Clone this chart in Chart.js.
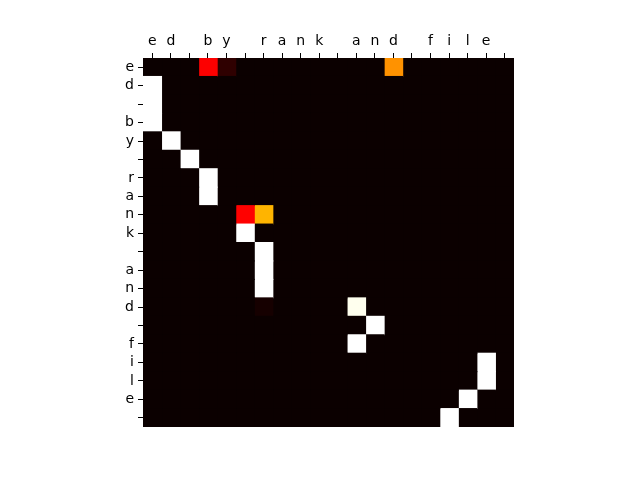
<!DOCTYPE html>
<html>
<head>
<meta charset="utf-8">
<script src="https://cdn.jsdelivr.net/npm/chart.js@4/dist/chart.umd.min.js"></script>
<style>
  html, body { margin: 0; padding: 0; background: #ffffff; }
  #wrap { width: 640px; height: 480px; }
</style>
</head>
<body>
<div id="wrap"><canvas id="c" width="640" height="480"></canvas></div>
<script>
// Column (key) characters along the top
const xLabels = ['e','d',' ','b','y',' ','r','a','n','k',' ','a','n','d',' ','f','i','l','e',' '];
// Row (query) characters down the left side
const yLabels = ['e','d',' ','b','y',' ','r','a','n','k',' ','a','n','d',' ','f','i','l','e',' '];

// Attention weights, one array per row (20 columns each)
const row0  = [0,0,0,0.362,0.055,0,0,0,0,0,0,0,0,0.583,0,0,0,0,0,0];
const row1  = [1,0,0,0,0,0,0,0,0,0,0,0,0,0,0,0,0,0,0,0];
const row2  = [1,0,0,0,0,0,0,0,0,0,0,0,0,0,0,0,0,0,0,0];
const row3  = [1,0,0,0,0,0,0,0,0,0,0,0,0,0,0,0,0,0,0,0];
const row4  = [0,1,0,0,0,0,0,0,0,0,0,0,0,0,0,0,0,0,0,0];
const row5  = [0,0,1,0,0,0,0,0,0,0,0,0,0,0,0,0,0,0,0,0];
const row6  = [0,0,0,1,0,0,0,0,0,0,0,0,0,0,0,0,0,0,0,0];
const row7  = [0,0,0,1,0,0,0,0,0,0,0,0,0,0,0,0,0,0,0,0];
const row8  = [0,0,0,0,0,0.366,0.634,0,0,0,0,0,0,0,0,0,0,0,0,0];
const row9  = [0,0,0,0,0,1,0,0,0,0,0,0,0,0,0,0,0,0,0,0];
const row10 = [0,0,0,0,0,0,1,0,0,0,0,0,0,0,0,0,0,0,0,0];
const row11 = [0,0,0,0,0,0,1,0,0,0,0,0,0,0,0,0,0,0,0,0];
const row12 = [0,0,0,0,0,0,1,0,0,0,0,0,0,0,0,0,0,0,0,0];
const row13 = [0,0,0,0,0,0,0.017,0,0,0,0,0.983,0,0,0,0,0,0,0,0];
const row14 = [0,0,0,0,0,0,0,0,0,0,0,0,1,0,0,0,0,0,0,0];
const row15 = [0,0,0,0,0,0,0,0,0,0,0,1,0,0,0,0,0,0,0,0];
const row16 = [0,0,0,0,0,0,0,0,0,0,0,0,0,0,0,0,0,0,1,0];
const row17 = [0,0,0,0,0,0,0,0,0,0,0,0,0,0,0,0,0,0,1,0];
const row18 = [0,0,0,0,0,0,0,0,0,0,0,0,0,0,0,0,0,1,0,0];
const row19 = [0,0,0,0,0,0,0,0,0,0,0,0,0,0,0,0,1,0,0,0];
const attention = [row0,row1,row2,row3,row4,row5,row6,row7,row8,row9,
                   row10,row11,row12,row13,row14,row15,row16,row17,row18,row19];

// matplotlib 'hot' colormap
function hot(v) {
  const lerp = (a, b, t) => a + (b - a) * t;
  let r, g, b;
  if (v <= 0.365079) r = lerp(0.0416, 1, v / 0.365079); else r = 1;
  if (v <= 0.365079) g = 0; else if (v <= 0.746032) g = (v - 0.365079) / (0.746032 - 0.365079); else g = 1;
  if (v <= 0.746032) b = 0; else b = (v - 0.746032) / (1 - 0.746032);
  const c = x => Math.round(Math.max(0, Math.min(1, x)) * 255);
  return 'rgb(' + c(r) + ',' + c(g) + ',' + c(b) + ')';
}

const allVals = attention.flat();
const vmin = Math.min(...allVals), vmax = Math.max(...allVals);
const norm = v => (v - vmin) / (vmax - vmin);

const cellSpan = 1;
const datasets = xLabels.map((lab, j) => ({
  label: 'col' + j,
  data: attention.map(() => cellSpan),
  backgroundColor: attention.map(row => hot(norm(row[j]))),
  borderWidth: 0,
  barPercentage: 1,
  categoryPercentage: 1,
  inflateAmount: 0.5
}));

const areaBg = {
  id: 'areaBg',
  beforeDatasetsDraw(chart) {
    const a = chart.chartArea, ctx = chart.ctx;
    ctx.save();
    ctx.fillStyle = hot(0);
    ctx.fillRect(a.left, a.top, a.right - a.left, a.bottom - a.top);
    ctx.restore();
  }
};

const tickFont = { family: 'DejaVu Sans', size: 14 };

new Chart(document.getElementById('c'), {
  type: 'bar',
  data: { labels: yLabels, datasets },
  plugins: [areaBg],
  options: {
    indexAxis: 'y',
    responsive: false,
    animation: false,
    layout: { padding: { left: 0, right: 126, top: 0, bottom: 53 } },
    plugins: { legend: { display: false }, tooltip: { enabled: false } },
    scales: {
      x: { type: 'linear', display: false, stacked: true, min: 0, max: xLabels.length },
      xTop: {
        type: 'category', labels: xLabels, position: 'top', offset: true,
        grid: { drawOnChartArea: false, offset: false, tickLength: 5, color: '#000', lineWidth: 1 },
        border: { display: false },
        ticks: { color: '#000', font: tickFont, autoSkip: false, maxRotation: 0, padding: 3 },
        afterFit(s) { s.height = 58; }
      },
      y: {
        type: 'category', stacked: true, offset: true,
        grid: { drawOnChartArea: false, offset: false, tickLength: 5, color: '#000', lineWidth: 1 },
        border: { display: false },
        ticks: { color: '#000', font: tickFont, autoSkip: false, padding: 4 },
        afterFit(s) { s.width = 143; }
      }
    }
  }
});
</script>
</body>
</html>
